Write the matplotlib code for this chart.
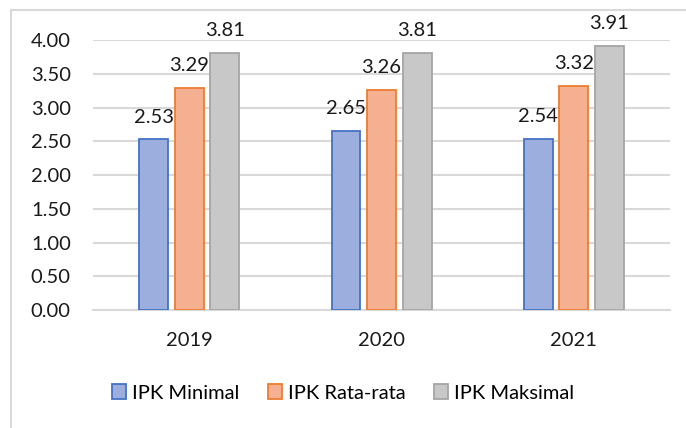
import matplotlib.pyplot as plt
import numpy as np
from matplotlib.lines import Line2D

plt.rcParams['font.family'] = ['Lato', 'DejaVu Sans']

years = ["2019", "2020", "2021"]
series_names = ["IPK Minimal", "IPK Rata-rata", "IPK Maksimal"]
ipk_min = [2.53, 2.65, 2.54]
ipk_avg = [3.29, 3.26, 3.32]
ipk_max = [3.81, 3.81, 3.91]
y_ticks = [0.0, 0.5, 1.0, 1.5, 2.0, 2.5, 3.0, 3.5, 4.0]

fills = ["#9BAEDE", "#F5B091", "#C8C8C8"]
edges = ["#4472C4", "#ED7D31", "#A5A5A5"]
fs = 14.5

fig = plt.figure(figsize=(6.86, 4.28), dpi=100)
ax = fig.add_axes([0.1356, 0.2757, 0.8411, 0.6308])

x = np.arange(len(years))
width = 0.15
offset = 0.185
for i, (vals, name) in enumerate(zip([ipk_min, ipk_avg, ipk_max], series_names)):
    pos = x + (i - 1) * offset
    ax.bar(pos, vals, width, color=fills[i], edgecolor=edges[i], linewidth=1.3,
           label=name, zorder=3)
    for p, v in zip(pos, vals):
        ax.annotate(f"{v:.2f}", (p, v), xytext=(0, 16), textcoords="offset points",
                    ha="center", va="center", fontsize=fs, color="#1a1a1a")

ax.set_xlim(-0.5, 2.5)
ax.set_ylim(0, 4)
ax.set_yticks(y_ticks)
ax.set_yticklabels([f"{t:.2f}" for t in y_ticks])
ax.set_xticks(x)
ax.set_xticklabels(years)
ax.tick_params(length=0, labelsize=fs, colors="#1a1a1a")
ax.tick_params(axis="y", pad=16)
ax.tick_params(axis="x", pad=16)
ax.grid(axis="y", color="#D9D9D9", linewidth=1.5, zorder=0)
for s in ["top", "right", "left"]:
    ax.spines[s].set_visible(False)
ax.spines["bottom"].set_color("#D9D9D9")
ax.spines["bottom"].set_linewidth(1.5)

fig.legend(loc="center", bbox_to_anchor=(0.5, 1 - 393 / 428), ncol=3, frameon=False,
           fontsize=fs, handlelength=0.7, handleheight=0.7, handletextpad=0.3,
           columnspacing=1.4)

# chart border (left and top edges visible)
fig.add_artist(Line2D([11 / 686, 11 / 686], [0, 1 - 10 / 428], color="#D9D9D9",
                      linewidth=1.5, transform=fig.transFigure))
fig.add_artist(Line2D([11 / 686, 1], [1 - 10 / 428, 1 - 10 / 428], color="#D9D9D9",
                      linewidth=1.5, transform=fig.transFigure))

fig.savefig("out.png", dpi=100)
